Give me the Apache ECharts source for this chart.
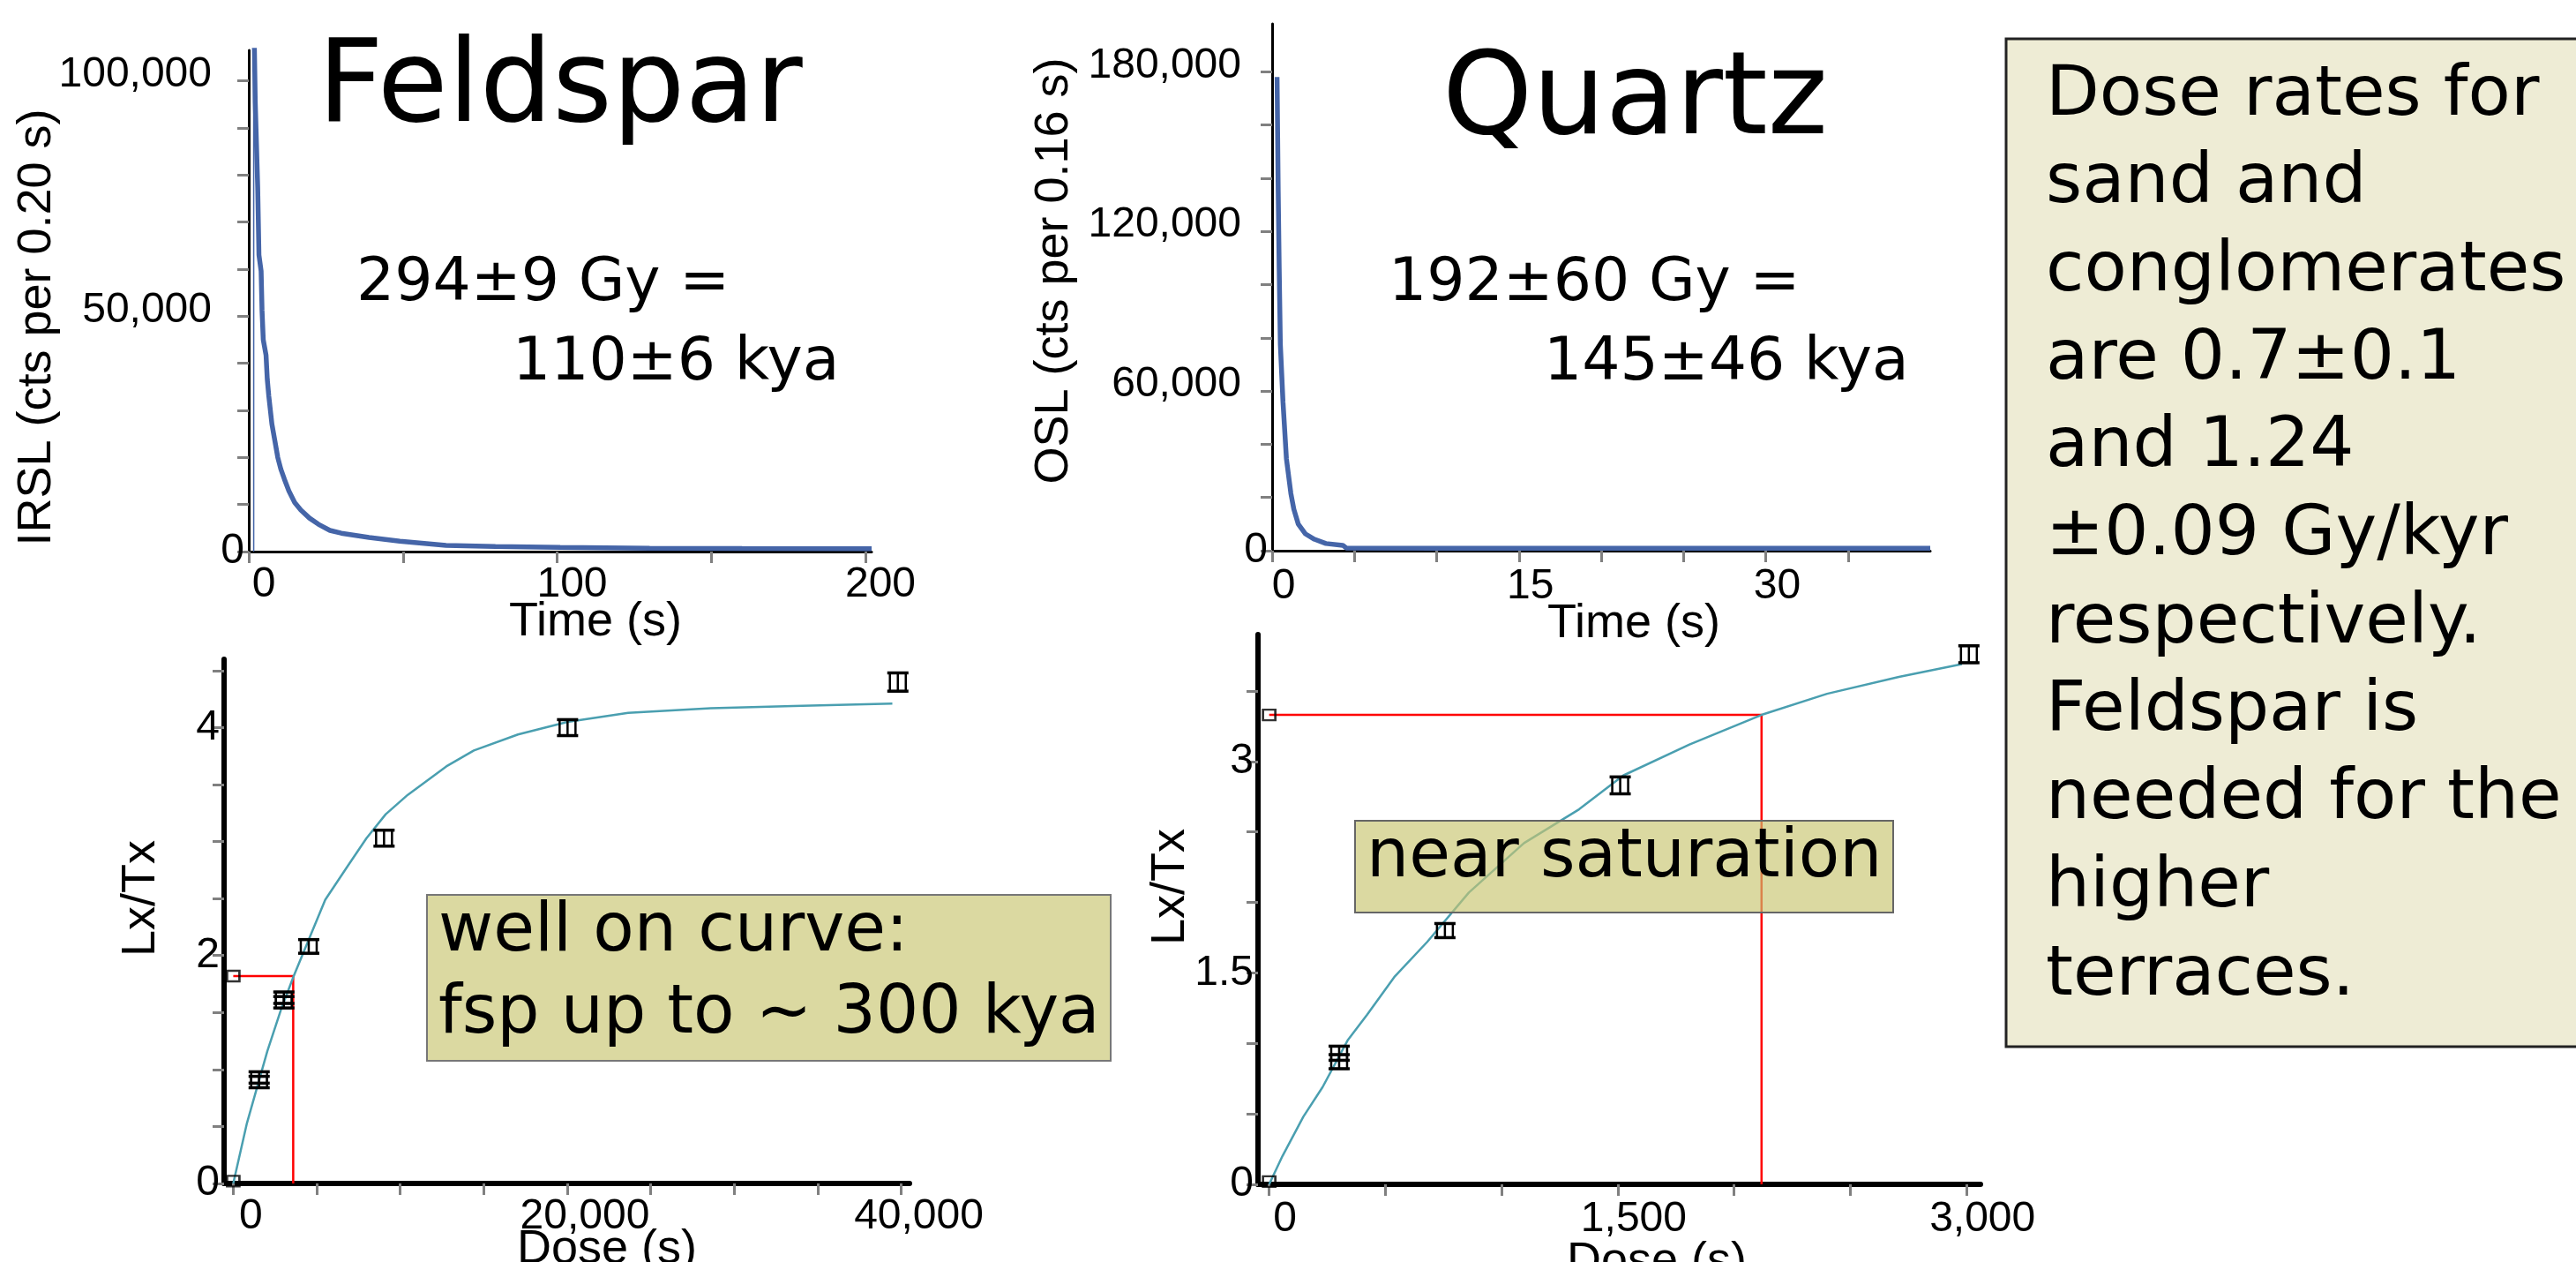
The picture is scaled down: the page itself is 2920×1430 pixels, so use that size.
<!DOCTYPE html>
<html>
<head>
<meta charset="utf-8">
<script src="https://cdn.jsdelivr.net/npm/echarts@6/dist/echarts.min.js"></script>
<style>
  html, body { margin: 0; padding: 0; background: #fff; }
  #chart { width: 2920px; height: 1430px; }
</style>
</head>
<body>
<div id="chart"></div>
<script>
// --- IRSL decay (feldspar), counts per 0.20 s ---
const irslTime = [1.7, 2.1, 2.9, 3.3, 4.0, 4.3, 4.7, 5.6, 6.0, 6.5, 7.5, 8.5, 9.4, 10.4, 11.6, 13.0, 14.9, 16.9, 19.7, 22.6, 26.3, 30, 39, 49, 64, 80, 101, 130, 160, 202];
const irslCounts = [112000, 95500, 77200, 63000, 59600, 51200, 45000, 41700, 36600, 33000, 27100, 23400, 20000, 17500, 15300, 12900, 10400, 8800, 7100, 5800, 4500, 3900, 3000, 2200, 1300, 1100, 900, 700, 650, 600];
const irslRiseTime = [1.6, 1.6];
const irslRiseCounts = [0, 112000];

// --- OSL decay (quartz), counts per 0.16 s ---
const oslTime = [0.3, 0.37, 0.43, 0.5, 0.66, 0.87, 1.14, 1.32, 1.59, 2.03, 2.57, 3.27, 4.3, 4.5, 10, 20, 30, 40];
const oslCounts = [178000, 135000, 106000, 77600, 56000, 34500, 21500, 15600, 10000, 6300, 4300, 2700, 2000, 1000, 900, 900, 900, 900];

// --- feldspar dose response ---
const fspFitDose = [0, 820, 2040, 2870, 3620, 4520, 5510, 6830, 7980, 9130, 10450, 12760, 14410, 17050, 20020, 23650, 28600, 33540, 39470];
const fspFitLxTx = [0, 0.53, 1.16, 1.53, 1.82, 2.14, 2.49, 2.78, 3.03, 3.24, 3.41, 3.66, 3.80, 3.94, 4.05, 4.13, 4.17, 4.19, 4.21];
const fspPointDose = [1550, 1550, 3030, 3030, 4520, 9030, 20020, 39800];
const fspPointLxTx = [0.89, 0.93, 1.59, 1.63, 2.08, 3.03, 4.00, 4.40];
const fspPointErr = [0.05, 0.05, 0.05, 0.05, 0.06, 0.07, 0.07, 0.08];
const fspOpenDose = [0, 0];
const fspOpenLxTx = [0.02, 1.82];   // zero dose, natural
const fspNatural = 1.82;
const fspDe = 3590;

// --- quartz dose response ---
const qtzFitDose = [0, 57, 147, 230, 337, 420, 538, 680, 859, 1096, 1333, 1523, 1808, 2118, 2400, 2709, 2980];
const qtzFitLxTx = [0, 0.20, 0.48, 0.69, 1.02, 1.20, 1.47, 1.72, 2.07, 2.42, 2.66, 2.90, 3.12, 3.33, 3.48, 3.60, 3.69];
const qtzPointDose = [301, 301, 756, 1510, 3010];
const qtzPointLxTx = [0.87, 0.93, 1.80, 2.83, 3.76];
const qtzPointErr = [0.05, 0.05, 0.05, 0.06, 0.06];
const qtzOpenDose = [0, 0];
const qtzOpenLxTx = [0.02, 3.33];
const qtzNatural = 3.33;
const qtzDe = 2118;

// --- ticks / labels ---
const irslTickX = [0, 50, 100, 150, 200];
const irslLabelX = [0, 100, 200];
const irslTickY = [0, 10000, 20000, 30000, 40000, 50000, 60000, 70000, 80000, 90000, 100000];
const irslLabelY = [0, 50000, 100000];
const oslTickX = [0, 5, 10, 15, 20, 25, 30, 35];
const oslLabelX = [0, 15, 30];
const oslTickY = [0, 20000, 40000, 60000, 80000, 100000, 120000, 140000, 160000, 180000];
const oslLabelY = [0, 60000, 120000, 180000];
const fspTickX = [0, 5000, 10000, 15000, 20000, 25000, 30000, 35000, 40000];
const fspLabelX = [0, 20000, 40000];
const fspTickY = [0, 0.5, 1, 1.5, 2, 2.5, 3, 3.5, 4, 4.5];
const fspLabelY = [0, 2, 4];
const qtzTickX = [0, 500, 1000, 1500, 2000, 2500, 3000];
const qtzLabelX = [0, 1500, 3000];
const qtzTickY = [0, 0.5, 1, 1.5, 2, 2.5, 3, 3.5];
const qtzLabelY = [0, 1.5, 3];

const noteLines = ['Dose rates for', 'sand and', 'conglomerates', 'are 0.7\u00b10.1', 'and 1.24',
  '\u00b10.09 Gy/kyr', 'respectively.', 'Feldspar is', 'needed for the', 'higher', 'terraces.'];

const zip = (a, b) => a.map((v, i) => [v, b[i]]);
const zip3 = (a, b, c) => a.map((v, i) => [v, b[i], c[i]]);
const fmt = v => (Math.abs(v) >= 1000 ? v.toLocaleString('en-US') : String(v));

const LAB = { fontFamily: '"Liberation Sans", Arial, sans-serif', fontSize: 48, color: '#000' };

function xAxis(grid, min, max, ticks, labels, thick, margin, shift) {
  return {
    type: 'value', gridIndex: grid, min: min, max: max,
    axisLine: { show: true, onZero: false, lineStyle: { color: '#000', width: thick } },
    axisTick: { show: true, customValues: ticks, length: 13, lineStyle: { color: '#808080', width: 3 } },
    axisLabel: Object.assign({ customValues: labels, margin: margin, padding: [0, 0, 0, shift * 2], formatter: fmt }, LAB),
    splitLine: { show: false }
  };
}

function yAxis(grid, min, max, ticks, labels, thick, pad) {
  return {
    type: 'value', gridIndex: grid, min: min, max: max,
    axisLine: { show: true, onZero: false, lineStyle: { color: '#000', width: thick } },
    axisTick: { show: true, customValues: ticks, length: 13, lineStyle: { color: '#808080', width: 3 } },
    axisLabel: Object.assign({
      customValues: labels, margin: 5,
      formatter: v => (v === 0 || !pad ? '{z|' + fmt(v) + '}' : '{n|' + fmt(v) + '}'),
      rich: {
        z: Object.assign({}, LAB),
        n: Object.assign({ padding: [0, pad, 14, 0] }, LAB)
      }
    }, LAB),
    splitLine: { show: false }
  };
}

function errorBar(params, api) {
  const x = api.value(0), y = api.value(1), e = api.value(2);
  const c = api.coord([x, y]);
  const hi = api.coord([x, y + e]);
  const lo = api.coord([x, y - e]);
  const thin = { stroke: '#000', lineWidth: 2.5, fill: null };
  const cap = { stroke: '#000', lineWidth: 3.5 };
  return {
    type: 'group',
    children: [
      { type: 'rect', shape: { x: c[0] - 9, y: hi[1], width: 18, height: lo[1] - hi[1] }, style: thin },
      { type: 'line', shape: { x1: c[0], y1: hi[1], x2: c[0], y2: lo[1] }, style: thin },
      { type: 'line', shape: { x1: c[0] - 12, y1: hi[1], x2: c[0] + 12, y2: hi[1] }, style: cap },
      { type: 'line', shape: { x1: c[0] - 12, y1: lo[1], x2: c[0] + 12, y2: lo[1] }, style: cap }
    ]
  };
}

function txt(text, x, y, size, family, extra) {
  return Object.assign({
    type: 'text', x: x, y: y, z: 100,
    style: { text: text, font: size + 'px ' + family, fill: '#000', textAlign: 'left', textVerticalAlign: 'middle' }
  }, extra || {});
}
const DV = '"DejaVu Sans", sans-serif';
const LS = '"Liberation Sans", Arial, sans-serif';
const ctr = { textAlign: 'center', textVerticalAlign: 'middle' };
function title(text, x, y, rotate) {
  const t = txt(text, x, y, 54, LS);
  Object.assign(t.style, ctr);
  if (rotate) t.rotation = Math.PI / 2;
  return t;
}

const graphics = [
  txt('Feldspar', 360, 103, 130, DV),
  txt('Quartz', 1635, 117, 130, DV),
  txt('294\u00b19 Gy =', 404, 322, 68, DV),
  txt('110\u00b16 kya', 581, 412, 68, DV),
  txt('192\u00b160 Gy =', 1574, 322, 68, DV),
  txt('145\u00b146 kya', 1750, 412, 68, DV),
  title('IRSL (cts per 0.20 s)', 42, 371, true),
  title('OSL (cts per 0.16 s)', 1195, 307, true),
  title('Time (s)', 675, 705),
  title('Time (s)', 1852, 707),
  title('Lx/Tx', 160, 1018, true),
  title('Lx/Tx', 1327, 1005, true),
  title('Dose (s)', 688, 1416),
  title('Dose (s)', 1878, 1430),
  { type: 'rect', z: 99, shape: { x: 484, y: 1014, width: 775, height: 188 },
    style: { fill: '#dbd9a1', stroke: '#777', lineWidth: 2 } },
  txt('well on curve:', 497, 1057, 76, DV),
  txt('fsp up to ~ 300 kya', 497, 1150, 76, DV),
  { type: 'rect', z: 99, shape: { x: 1536, y: 930, width: 610, height: 104 },
    style: { fill: 'rgba(200,197,112,0.66)', stroke: '#666', lineWidth: 2 } },
  txt('near saturation', 1549, 973, 76, DV),
  { type: 'rect', z: 99, shape: { x: 2274, y: 44, width: 680, height: 1142 },
    style: { fill: '#eeecd5', stroke: '#222', lineWidth: 3 } }
].concat(noteLines.map((s, i) => txt(s, 2319, 133 + i * 99.7 - 24, 79, DV)));

const option = {
  backgroundColor: '#fff',
  animation: false,
  grid: [
    { left: 282, top: 57, width: 706, height: 568 },
    { left: 1442, top: 27, width: 746, height: 597 },
    { left: 254, top: 747, width: 777, height: 594 },
    { left: 1426, top: 719, width: 819, height: 623 }
  ],
  xAxis: [
    xAxis(0, 0, 202, irslTickX, irslLabelX, 3, 14, 17),
    xAxis(1, 0, 40, oslTickX, oslLabelX, 3, 17, 13),
    xAxis(2, -550, 40500, fspTickX, fspLabelX, 6, 14, 20),
    xAxis(3, -48, 3060, qtzTickX, qtzLabelX, 6, 16, 18)
  ],
  yAxis: [
    yAxis(0, 0, 106500, irslTickY, irslLabelY, 3, 37),
    yAxis(1, 0, 198000, oslTickY, oslLabelY, 3, 30),
    yAxis(2, 0, 4.6, fspTickY, fspLabelY, 6, 0),
    yAxis(3, 0, 3.9, qtzTickY, qtzLabelY, 6, 0)
  ],
  series: [
    { type: 'line', xAxisIndex: 0, yAxisIndex: 0, showSymbol: false, clip: true,
      data: zip(irslRiseTime, irslRiseCounts), lineStyle: { color: '#4565a8', width: 1.5 } },
    { type: 'line', xAxisIndex: 0, yAxisIndex: 0, showSymbol: false, clip: true,
      data: zip(irslTime, irslCounts), lineStyle: { color: '#4565a8', width: 5.5 } },
    { type: 'line', xAxisIndex: 1, yAxisIndex: 1, showSymbol: false, clip: true,
      data: zip(oslTime, oslCounts), lineStyle: { color: '#4565a8', width: 5.5 } },

    { type: 'line', xAxisIndex: 2, yAxisIndex: 2, showSymbol: false,
      data: [[0, fspNatural], [fspDe, fspNatural], [fspDe, 0]], lineStyle: { color: '#ff0000', width: 2.5 } },
    { type: 'line', xAxisIndex: 2, yAxisIndex: 2, showSymbol: false,
      data: zip(fspFitDose, fspFitLxTx), lineStyle: { color: '#4a9fb0', width: 2.5 } },
    { type: 'custom', xAxisIndex: 2, yAxisIndex: 2, renderItem: errorBar, z: 5,
      data: zip3(fspPointDose, fspPointLxTx, fspPointErr) },
    { type: 'scatter', xAxisIndex: 2, yAxisIndex: 2, symbol: 'rect', symbolSize: [14, 12], z: 5,
      itemStyle: { color: 'rgba(255,255,255,0)', borderColor: '#000', borderWidth: 2.5 },
      data: zip(fspOpenDose, fspOpenLxTx) },

    { type: 'line', xAxisIndex: 3, yAxisIndex: 3, showSymbol: false,
      data: [[0, qtzNatural], [qtzDe, qtzNatural], [qtzDe, 0]], lineStyle: { color: '#ff0000', width: 2.5 } },
    { type: 'line', xAxisIndex: 3, yAxisIndex: 3, showSymbol: false,
      data: zip(qtzFitDose, qtzFitLxTx), lineStyle: { color: '#4a9fb0', width: 2.5 } },
    { type: 'custom', xAxisIndex: 3, yAxisIndex: 3, renderItem: errorBar, z: 5,
      data: zip3(qtzPointDose, qtzPointLxTx, qtzPointErr) },
    { type: 'scatter', xAxisIndex: 3, yAxisIndex: 3, symbol: 'rect', symbolSize: [14, 12], z: 5,
      itemStyle: { color: 'rgba(255,255,255,0)', borderColor: '#000', borderWidth: 2.5 },
      data: zip(qtzOpenDose, qtzOpenLxTx) }
  ],
  graphic: graphics
};

const myChart = echarts.init(document.getElementById('chart'), null, { renderer: 'canvas' });
myChart.setOption(option);
</script>
</body>
</html>
